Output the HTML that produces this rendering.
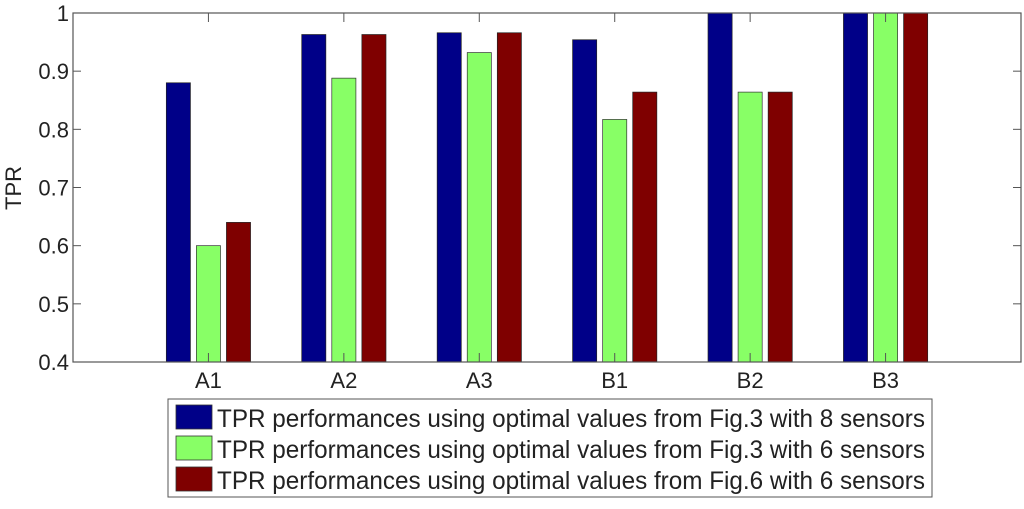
<!DOCTYPE html>
<html><head><meta charset="utf-8"><style>
html,body{margin:0;padding:0;background:#fff;}
svg text{font-family:"Liberation Sans",Arial,sans-serif;fill:#222;}
</style></head><body>
<svg id="chart" width="1024" height="504" viewBox="0 0 1024 504" xmlns="http://www.w3.org/2000/svg"></svg>
<script>
const categories = ["A1","A2","A3","B1","B2","B3"];
const series8 = [0.88, 0.963, 0.966, 0.954, 1.0, 1.0];
const series6a = [0.60, 0.888, 0.932, 0.817, 0.864, 1.0];
const series6b = [0.64, 0.963, 0.966, 0.864, 0.864, 1.0];
const yTicks = [0.4, 0.5, 0.6, 0.7, 0.8, 0.9, 1];
const legendLabels = [
 "TPR performances using optimal values from Fig.3 with 8 sensors",
 "TPR performances using optimal values from Fig.3 with 6 sensors",
 "TPR performances using optimal values from Fig.6 with 6 sensors"];

const NS="http://www.w3.org/2000/svg";
const svg=document.getElementById('chart');
const L=73,R=1021,T=13,B=362;
const y=v=>B-(v-0.4)/0.6*(B-T);
const x=i=>L+(i+1)/7*(R-L);
const unit=(R-L)/7;
function mk(tag,attrs,parent){const e=document.createElementNS(NS,tag);for(const k in attrs)e.setAttribute(k,attrs[k]);(parent||svg).appendChild(e);return e;}

const colors=["#000088","#88ff66","#7f0000"];
const allSeries=[series8,series6a,series6b];
const offs=[-0.222,0,0.222];
const bw=0.178*unit;
allSeries.forEach((s,si)=>{
  s.forEach((v,i)=>{
    const cx=x(i)+offs[si]*unit;
    const r=mk('rect',{x:cx-bw/2,y:y(v),width:bw,height:B-y(v),fill:colors[si],stroke:si==1?'#333':'#222','stroke-width':0.7});
    
    
  });
});

const frame=mk('rect',{x:L,y:T,width:R-L,height:B-T,fill:'none',stroke:'#555','stroke-width':1.2});



yTicks.forEach(t=>{
  mk('line',{x1:L,x2:L+8,y1:y(t),y2:y(t),stroke:'#555'});
  mk('line',{x1:R-8,x2:R,y1:y(t),y2:y(t),stroke:'#555'});
  const tx=mk('text',{x:L-4,y:y(t)+8,'text-anchor':'end','font-size':22});
  tx.textContent=String(t);
  
  
});
categories.forEach((c,i)=>{
  mk('line',{x1:x(i),x2:x(i),y1:T,y2:T+9,stroke:'#555'});
  mk('line',{x1:x(i),x2:x(i),y1:B-9,y2:B,stroke:'#555'});
  const tx=mk('text',{x:x(i),y:B+26,'text-anchor':'middle','font-size':22});
  tx.textContent=c;
  
  
});
const yl=mk('text',{x:0,y:0,transform:'translate(21,188) rotate(-90)','text-anchor':'middle','font-size':22});
yl.textContent='TPR';



const lg=mk('g',{});


mk('rect',{x:168,y:399,width:764,height:98,fill:'#fff',stroke:'#555','stroke-width':1},lg);
legendLabels.forEach((lab,i)=>{
  const yy=405+i*31;
  const sw=mk('rect',{x:176,y:yy,width:36,height:24,fill:colors[i],stroke:'#333','stroke-width':0.8},lg);
  
  
  const tx=mk('text',{x:217,y:yy+22,'font-size':25,textLength:708,lengthAdjust:'spacingAndGlyphs'},lg);
  tx.textContent=lab;
  
  
});
</script>
</body></html>
